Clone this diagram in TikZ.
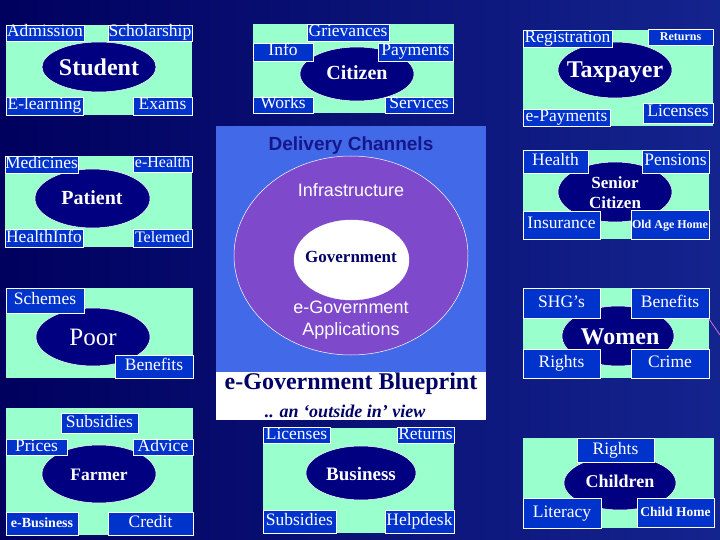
\documentclass[tikz,border=0pt]{standalone}
\usepackage{fontspec}
\setmainfont{Liberation Serif}
\setsansfont{Liberation Sans}
\usetikzlibrary{shapes.geometric}
\definecolor{mint}{HTML}{99FFCC}
\definecolor{lblue}{HTML}{0033CC}
\definecolor{ellnavy}{HTML}{000080}
\definecolor{bgl}{HTML}{00005E}
\definecolor{bgr}{HTML}{14248E}
\definecolor{cblue}{HTML}{4169E8}
\definecolor{cpurple}{HTML}{7E49CB}
\definecolor{dnavy}{HTML}{000066}
\definecolor{dcnavy}{HTML}{16168A}
\definecolor{pinkln}{HTML}{D070D0}
\tikzset{
  panel/.style={fill=mint},
  hub/.style={ellipse, fill=ellnavy, draw=white, line width=0.5pt, inner sep=0pt},
  lbl/.style={rectangle, draw=white, line width=0.6pt, fill=lblue, text=white, inner sep=0pt,
    text height=12pt, text depth=4pt, font=\fontsize{17.5}{20}\selectfont},
  smallb/.style={font=\bfseries\fontsize{#1}{#1}\selectfont},
  hubtext/.style={text=white, inner sep=0pt, align=center, font=\bfseries\fontsize{24}{26}\selectfont},
}
\newcommand\labbox[7][]{\node[lbl,minimum width={#5-#3},minimum height={#6-#4},#1] (#2) at ({(#3+#5)/2},{(#4+#6)/2}) {#7};}
\newcommand\hubell[5]{\node[hub,minimum width={2*#4},minimum height={2*#5}] (#1) at (#2,#3) {};}
\newcommand\panelrect[4]{\fill[panel] (#1,#2) rectangle (#3,#4);}
\begin{document}
\begin{tikzpicture}[x=1pt,y=-1pt]
\useasboundingbox (0,0) rectangle (720,540);
\fill[left color=bgl,right color=bgr] (0,0) rectangle (720,540);

% ---------- Student
\panelrect{6}{25}{192}{115}
\hubell{stE}{99}{67}{57}{25}
\labbox{stA}{6}{25}{84}{41}{Admission}
\labbox{stB}{108}{25}{192}{41}{Scholarship}
\labbox{stC}{6}{97}{83}{115}{E-learning}
\labbox{stD}{133}{97}{192}{115}{Exams}
\node[hubtext] (stT) at (99,67) {Student};

% ---------- Citizen
\panelrect{253}{24}{454}{113}
\hubell{ciE}{357}{74}{57}{27}
\labbox{ciA}{307}{24}{389}{41}{Grievances}
\labbox{ciB}{253}{43}{313}{61}{Info}
\labbox{ciC}{378}{43}{453}{61}{Payments}
\labbox{ciD}{253}{97}{313}{113}{Works}
\labbox{ciF}{385}{97}{453}{113}{Services}
\node[hubtext,font=\bfseries\fontsize{20}{22}\selectfont] (ciT) at (357,73) {Citizen};

% ---------- Taxpayer
\panelrect{523}{30}{713}{126}
\hubell{txE}{615}{70}{57}{28}
\labbox{txA}{523}{30}{612}{47}{Registration}
\labbox[smallb=12]{txB}{648}{30}{713}{44}{Returns}
\labbox{txC}{523}{109}{610}{126}{e-Payments}
\labbox{txD}{643}{103}{713}{123}{Licenses}
\node[hubtext] (txT) at (615,72) {Taxpayer};

% ---------- Patient
\panelrect{5}{156}{192}{247}
\hubell{paE}{92.5}{198.5}{57.5}{29.5}
\labbox{paA}{5}{156}{78}{173}{Medicines}
\labbox[font=\fontsize{16}{18}\selectfont]{paB}{133}{156}{192}{172}{e-Health}
\labbox{paC}{5}{229}{83}{247}{HealthInfo}
\labbox[font=\fontsize{16}{18}\selectfont]{paD}{133}{229}{192}{247}{Telemed}
\node[hubtext,font=\bfseries\fontsize{20}{22}\selectfont] (paT) at (92,198) {Patient};

% ---------- Senior Citizen
\panelrect{523}{150}{709}{239}
\hubell{seE}{615}{192}{57}{30}
\labbox{seA}{523}{150}{588}{173}{Health}
\labbox{seB}{642}{150}{709}{173}{Pensions}
\labbox{seC}{523}{211}{600}{239}{Insurance}
\labbox[smallb=12]{seD}{631}{210}{709}{239}{Old Age Home}
\node[hubtext,font=\bfseries\fontsize{17}{20}\selectfont] (seT) at (615,193) {Senior\\Citizen};

% ---------- Poor
\panelrect{6}{288}{193}{378}
\hubell{poE}{93}{337}{57}{29}
\labbox{poA}{6}{288}{84}{313}{Schemes}
\labbox{poB}{115}{355}{193}{378}{Benefits}
\node[hubtext,font=\fontsize{25}{27}\selectfont] (poT) at (93,337) {Poor};

% ---------- Women
\panelrect{523}{288}{709}{378}
\hubell{woE}{618}{336}{56}{30}
\labbox{woA}{523}{288}{600}{318}{SHG’s}
\labbox{woB}{631}{288}{709}{318}{Benefits}
\labbox{woC}{523}{349}{600}{378}{Rights}
\labbox{woD}{631}{349}{709}{378}{Crime}
\node[hubtext] (woT) at (620,337) {Women};

% ---------- Farmer
\panelrect{6}{408}{193}{535}
\hubell{faE}{99}{474}{57}{29}
\labbox{faA}{61}{413}{138}{433}{Subsidies}
\labbox{faB}{6}{439}{67}{455}{Prices}
\labbox{faC}{133}{439}{193}{455}{Advice}
\labbox[smallb=14]{faD}{6}{512}{78}{535}{e-Business}
\labbox{faF}{108}{512}{193}{535}{Credit}
\node[hubtext,font=\bfseries\fontsize{17.5}{20}\selectfont] (faT) at (99,475) {Farmer};

% ---------- Business
\panelrect{263}{428}{454}{533}
\hubell{buE}{361}{473}{55}{27}
\labbox{buA}{263}{428}{330}{443}{Licenses}
\labbox{buB}{397}{428}{454}{443}{Returns}
\labbox{buC}{263}{510}{336}{533}{Subsidies}
\labbox{buD}{385}{510}{454}{533}{Helpdesk}
\node[hubtext,font=\bfseries\fontsize{19}{21}\selectfont] (buT) at (361,474) {Business};

% ---------- Children
\panelrect{523}{438}{714}{528}
\hubell{chE}{620}{483}{56}{27}
\labbox{chA}{577}{438}{654}{462}{Rights}
\labbox{chB}{523}{498}{601}{528}{Literacy}
\labbox[smallb=13.5]{chC}{637}{498}{714}{527}{Child Home}
\node[hubtext,font=\bfseries\fontsize{18}{20}\selectfont] (chT) at (620,481) {Children};

% ---------- Centre blueprint
\fill[cblue] (216,126) rectangle (486,372);
\fill[white] (216,372) rectangle (486,420);
\node[ellipse, fill=cpurple, draw=white, line width=0.5pt, minimum width=234, minimum height=199, inner sep=0pt] (infra) at (351,255.5) {};
\node[ellipse, fill=white, draw=white, minimum width=115, minimum height=80, inner sep=0pt] (gov) at (351.5,260) {};
\node[text=dcnavy, inner sep=0pt, font=\sffamily\bfseries\fontsize{19}{21}\selectfont] (dch) at (351,146) {Delivery Channels};
\node[text=white, inner sep=0pt, font=\sffamily\fontsize{18}{20}\selectfont] (inf) at (351,190) {Infrastructure};
\node[text=dnavy, inner sep=0pt, font=\bfseries\fontsize{17}{19}\selectfont] (govT) at (351,257) {Government};
\node[text=white, inner sep=0pt, align=center, font=\sffamily\fontsize{18}{22}\selectfont] (app) at (351,320) {e-Government\\Applications};
\node[text=dnavy, inner sep=0pt, font=\bfseries\fontsize{24}{26}\selectfont] (bp) at (351,384) {e-Government Blueprint};
\node[text=dnavy, inner sep=0pt, font=\bfseries\itshape\fontsize{18}{20}\selectfont] (oiv) at (345,411) {.. an ‘outside in’ view};

% ---------- stray pink line
\coordinate (pk1) at (709,319);
\coordinate (pk2) at (720,335);
\draw[pinkln, line width=0.8pt] (pk1) -- (pk2);
\end{tikzpicture}
\end{document}
